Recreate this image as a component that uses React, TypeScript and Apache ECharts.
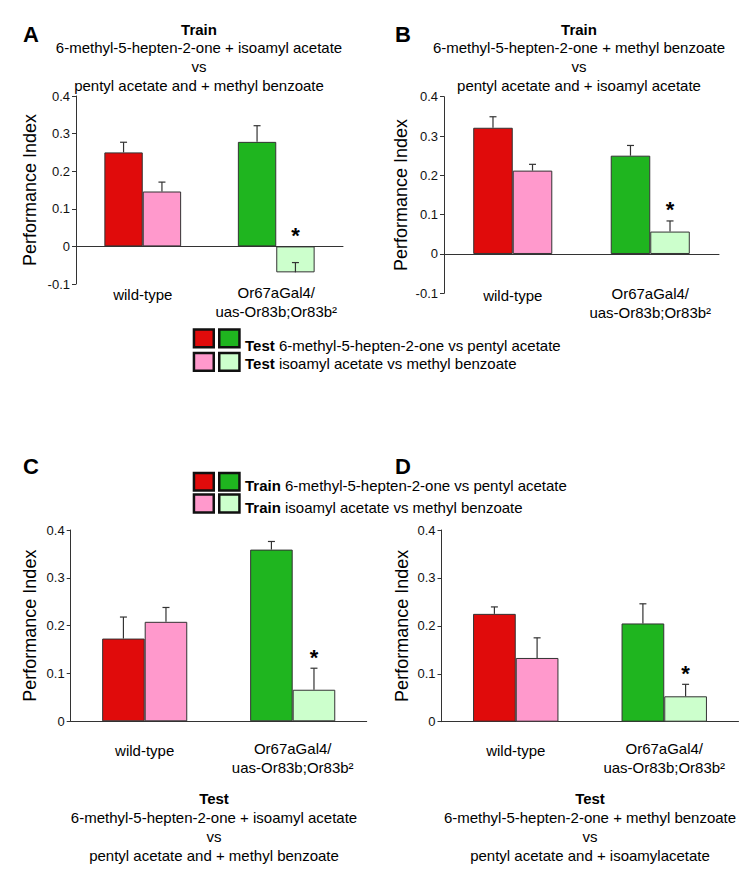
import React, { useEffect, useRef } from "react";
import * as echarts from "echarts";

const FONT = "'Liberation Sans', Arial, Helvetica, sans-serif";

// categories
const categories = ["wild-type", "Or67aGal4/\nuas-Or83b;Or83b²"];

// colours of the first (red / green) and second (pink / light green) bar in each group
const firstColors = ["#E00B0B", "#1FB51F"];
const secondColors = ["#FF99CC", "#CCFFCC"];

// Panel A
const aFirst = [0.25, 0.278];
const aFirstErr = [0.027, 0.043];
const aSecond = [0.146, -0.069];
const aSecondErr = [0.025, 0.026];
// Panel B
const bFirst = [0.321, 0.25];
const bFirstErr = [0.028, 0.026];
const bSecond = [0.212, 0.057];
const bSecondErr = [0.016, 0.027];
// Panel C
const cFirst = [0.173, 0.359];
const cFirstErr = [0.045, 0.017];
const cSecond = [0.208, 0.066];
const cSecondErr = [0.03, 0.045];
// Panel D
const dFirst = [0.225, 0.205];
const dFirstErr = [0.0145, 0.041];
const dSecond = [0.133, 0.053];
const dSecondErr = [0.042, 0.025];

const secondSignificant = [false, true];

const titleTopA = ["Train", "6-methyl-5-hepten-2-one + isoamyl acetate", "vs", "pentyl acetate and + methyl benzoate"];
const titleTopB = ["Train", "6-methyl-5-hepten-2-one + methyl benzoate", "vs", "pentyl acetate and + isoamyl acetate"];
const titleBotC = ["Test", "6-methyl-5-hepten-2-one + isoamyl acetate", "vs", "pentyl acetate and + methyl benzoate"];
const titleBotD = ["Test", "6-methyl-5-hepten-2-one + methyl benzoate", "vs", "pentyl acetate and + isoamylacetate"];

const legend1 = [["Test", "6-methyl-5-hepten-2-one vs pentyl acetate"], ["Test", "isoamyl acetate vs methyl benzoate"]];
const legend2 = [["Train", "6-methyl-5-hepten-2-one vs pentyl acetate"], ["Train", "isoamyl acetate vs methyl benzoate"]];

const yLabel = "Performance Index";

const CAT_GAP = 0.425;

const panels = [
  { first: aFirst, firstErr: aFirstErr, second: aSecond, secondErr: aSecondErr, min: -0.1,
    grid: { left: 76, top: 96, width: 267, height: 188 }, labelMargin: -1, nameGap: 37 },
  { first: bFirst, firstErr: bFirstErr, second: bSecond, secondErr: bSecondErr, min: -0.1,
    grid: { left: 444, top: 96.7, width: 275, height: 196.6 }, labelMargin: -9.5, nameGap: 34 },
  { first: cFirst, firstErr: cFirstErr, second: cSecond, secondErr: cSecondErr, min: 0,
    grid: { left: 70.7, top: 530, width: 296, height: 191.3 }, labelMargin: 17.5, nameGap: 31.5 },
  { first: dFirst, firstErr: dFirstErr, second: dSecond, secondErr: dSecondErr, min: 0,
    grid: { left: 441.5, top: 530, width: 297, height: 191.7 }, labelMargin: 17, nameGap: 31 },
];

function renderErr(params: any, api: any) {
  const cat = api.value(0);
  const mean = api.value(1);
  const sem = api.value(2);
  const slot = api.value(3);
  const sig = api.value(4);
  const band = api.size([1, 0])[0];
  const barW = (band * (1 - CAT_GAP)) / 2;
  const base = api.coord([cat, mean]);
  const x = base[0] + (slot === 0 ? -barW / 2 : barW / 2);
  const yBase = base[1];
  const yTop = api.coord([cat, mean + sem])[1];
  const yZero = api.coord([cat, 0])[1];
  const ls = { stroke: "#333", lineWidth: 1.2 };
  const children: any[] = [
    { type: "line", shape: { x1: x, y1: yBase, x2: x, y2: yTop }, style: ls },
    { type: "line", shape: { x1: x - 3.5, y1: yTop, x2: x + 3.5, y2: yTop }, style: ls },
  ];
  if (sig) {
    const yStar = Math.min(yTop, yZero) - 14;
    children.push({
      type: "text",
      x: x,
      y: yStar + 3,
      style: { text: "*", fontSize: 22, fontWeight: "bold", fontFamily: FONT, fill: "#000", align: "center", verticalAlign: "middle" },
    });
  }
  return { type: "group", children };
}

function titleText(lines: string[], x: number, y: number, lh: number) {
  return {
    type: "text",
    x,
    y,
    style: {
      text: "{b|" + lines[0] + "}\n" + lines.slice(1).join("\n"),
      fontSize: 15,
      lineHeight: lh,
      fontFamily: FONT,
      fill: "#000",
      align: "center",
      verticalAlign: "top",
      rich: { b: { fontWeight: "bold", fontSize: 15, lineHeight: lh, fontFamily: FONT } },
    },
  };
}

function legendBlock(items: string[][], rows: { y: number; h: number }[], textY: number[]) {
  const cols = [{ x: 192.7, w: 22.3 }, { x: 218, w: 22.7 }];
  const colors = [[firstColors[0], firstColors[1]], [secondColors[0], secondColors[1]]];
  const els: any[] = [];
  const lw = 2.5;
  rows.forEach((r, ri) => {
    cols.forEach((c, ci) => {
      els.push({
        type: "rect",
        shape: { x: c.x + lw / 2, y: r.y + lw / 2, width: c.w - lw, height: r.h - lw },
        style: { fill: colors[ri][ci], stroke: "#111", lineWidth: lw },
      });
    });
    els.push({
      type: "text",
      x: 245,
      y: textY[ri],
      style: {
        text: "{b|" + items[ri][0] + "} " + items[ri][1],
        fontSize: 15,
        fontFamily: FONT,
        fill: "#000",
        align: "left",
        verticalAlign: "middle",
        rich: { b: { fontWeight: "bold", fontSize: 15, fontFamily: FONT } },
      },
    });
  });
  return els;
}

function letter(t: string, x: number, y: number) {
  return {
    type: "text",
    x,
    y,
    style: { text: t, fontSize: 22, fontWeight: "bold", fontFamily: FONT, fill: "#000", align: "left", verticalAlign: "middle" },
  };
}

export default function App() {
  const ref = useRef<HTMLDivElement>(null);
  useEffect(() => {
    if (!ref.current) return;
    const chart = echarts.init(ref.current, undefined, { renderer: "svg" });
    const series: any[] = [];
    panels.forEach((p, i) => {
      series.push({
        type: "bar",
        xAxisIndex: i,
        yAxisIndex: i,
        barGap: "0%",
        barCategoryGap: CAT_GAP * 100 + "%",
        data: p.first.map((v, k) => ({ value: v, itemStyle: { color: firstColors[k] } })),
        itemStyle: { borderColor: "#333", borderWidth: 1 },
        z: 2,
      });
      series.push({
        type: "bar",
        xAxisIndex: i,
        yAxisIndex: i,
        barGap: "0%",
        barCategoryGap: CAT_GAP * 100 + "%",
        data: p.second.map((v, k) => ({ value: v, itemStyle: { color: secondColors[k] } })),
        itemStyle: { borderColor: "#333", borderWidth: 1 },
        z: 2,
      });
      const errData: any[] = [];
      p.first.forEach((v, k) => errData.push([k, v, p.firstErr[k], 0, 0]));
      p.second.forEach((v, k) => errData.push([k, v, p.secondErr[k], 1, secondSignificant[k] ? 1 : 0]));
      series.push({
        type: "custom",
        xAxisIndex: i,
        yAxisIndex: i,
        encode: { x: 0, y: 1 },
        data: errData,
        renderItem: renderErr,
        z: 5,
        silent: true,
      });
    });

    const option: any = {
      animation: false,
      backgroundColor: "#fff",
      textStyle: { fontFamily: FONT },
      grid: panels.map((p) => ({ ...p.grid, containLabel: false })),
      xAxis: panels.map((p, i) => ({
        type: "category",
        gridIndex: i,
        data: categories,
        axisLine: { show: true, onZero: true, lineStyle: { color: "#333", width: 1 } },
        axisTick: { show: false },
        splitLine: { show: false },
        axisLabel: {
          margin: p.labelMargin,
          fontSize: 15,
          lineHeight: 19,
          color: "#000",
          fontFamily: FONT,
          verticalAlign: "top",
          interval: 0,
          formatter: (v: string) => (v === "wild-type" ? "{w|" + v + "}" : v),
          rich: { w: { fontSize: 15, lineHeight: 19, padding: [4, 0, 0, 0], fontFamily: FONT, color: "#000" } },
        },
      })),
      yAxis: panels.map((p, i) => ({
        type: "value",
        gridIndex: i,
        min: p.min,
        max: 0.4,
        interval: 0.1,
        splitLine: { show: false },
        axisLine: { show: true, lineStyle: { color: "#333", width: 1 } },
        axisTick: { show: true, length: 4, inside: false, lineStyle: { color: "#333" } },
        axisLabel: {
          fontSize: 13,
          margin: 6,
          color: "#111",
          fontFamily: FONT,
          formatter: (v: number) => String(Math.round(v * 10) / 10),
        },
        name: yLabel,
        nameLocation: "middle",
        nameGap: p.nameGap,
        nameTextStyle: { fontSize: 18, color: "#000", fontFamily: FONT },
      })),
      series,
      graphic: [
        letter("A", 23, 34),
        letter("B", 395, 34),
        letter("C", 23, 466),
        letter("D", 395, 466),
        titleText(titleTopA, 199, 20, 18.6),
        titleText(titleTopB, 579, 20, 18.6),
        titleText(titleBotC, 214, 788.8, 19),
        titleText(titleBotD, 590, 788.8, 19),
        ...legendBlock(legend1, [{ y: 328.3, h: 20.3 }, { y: 351.7, h: 20.3 }], [345, 363.5]),
        ...legendBlock(legend2, [{ y: 471.7, h: 20 }, { y: 493.3, h: 20.5 }], [485.5, 507]),
      ],
    };
    chart.setOption(option);
    return () => chart.dispose();
  }, []);
  return (
    <div
      ref={ref}
      style={{ position: "fixed", left: 0, top: 0, width: 750, height: 878, background: "#fff" }}
    />
  );
}
